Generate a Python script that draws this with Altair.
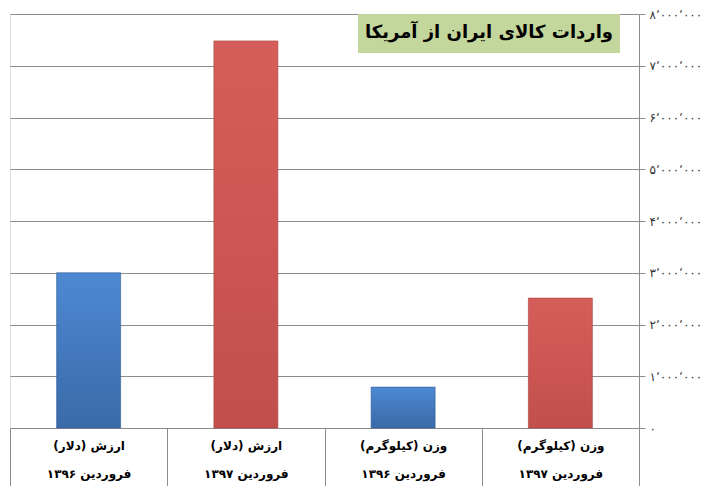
import altair as alt
import pandas as pd

categories = [
    "ارزش (دلار)\nفروردین ۱۳۹۶",
    "ارزش (دلار)\nفروردین ۱۳۹۷",
    "وزن (کیلوگرم)\nفروردین ۱۳۹۶",
    "وزن (کیلوگرم)\nفروردین ۱۳۹۷",
]
values = [3000000, 7480000, 790000, 2510000]
series = ["1396", "1397", "1396", "1397"]
tick_values = [0, 1000000, 2000000, 3000000, 4000000, 5000000, 6000000, 7000000, 8000000]
tick_labels = ["۰", "۱٬۰۰۰٬۰۰۰", "۲٬۰۰۰٬۰۰۰", "۳٬۰۰۰٬۰۰۰", "۴٬۰۰۰٬۰۰۰",
               "۵٬۰۰۰٬۰۰۰", "۶٬۰۰۰٬۰۰۰", "۷٬۰۰۰٬۰۰۰", "۸٬۰۰۰٬۰۰۰"]
title_text = "واردات کالای ایران از آمریکا"

df = pd.DataFrame({"cat": categories, "value": values, "series": series})

label_map = "{" + ",".join(f"'{v}':'{l}'" for v, l in zip(tick_values, tick_labels)) + "}"

x_enc = alt.X("cat:N", sort=categories,
              scale=alt.Scale(paddingInner=0, paddingOuter=0),
              axis=alt.Axis(title=None, labelAngle=0, labelExpr="split(datum.label, '\\n')",
                            labelFont="DejaVu Sans", labelFontWeight="bold", labelFontSize=12,
                            labelColor="#000000", labelLineHeight=28, labelPadding=-50,
                            labelBaseline="top",
                            tickBand="extent", tickSize=62, tickColor="#8c8c8c",
                            domainColor="#8c8c8c", grid=False))
y_enc = alt.Y("value:Q",
              scale=alt.Scale(domain=[0, 8000000], nice=False),
              axis=alt.Axis(title=None, orient="right", values=tick_values,
                            labelExpr=f"{label_map}[datum.value]",
                            labelFont="DejaVu Sans", labelFontSize=12, labelColor="#333333",
                            tickSize=6, tickColor="#8c8c8c", domainColor="#8c8c8c",
                            labelPadding=4,
                            grid=True, gridColor="#8c8c8c", gridWidth=1))

blue = alt.Gradient(gradient="linear", x1=0, x2=0, y1=0, y2=1,
                    stops=[alt.GradientStop(color="#4d89d2", offset=0),
                           alt.GradientStop(color="#3a6aa9", offset=1)])
red = alt.Gradient(gradient="linear", x1=0, x2=0, y1=0, y2=1,
                   stops=[alt.GradientStop(color="#d65e5a", offset=0),
                          alt.GradientStop(color="#c24f4c", offset=1)])

base = alt.Chart(df)
bars_blue = base.transform_filter(alt.datum.series == "1396").mark_bar(
    size=64, color=blue, stroke="#2f5a94", strokeWidth=0.6).encode(x=x_enc, y=y_enc)
bars_red = base.transform_filter(alt.datum.series == "1397").mark_bar(
    size=64, color=red, stroke="#a8423f", strokeWidth=0.6).encode(x=x_enc, y=y_enc)

title_df = pd.DataFrame({"t": [title_text]})
box = alt.Chart(title_df).mark_rect(color="#c3d69b").encode(
    x=alt.value(348), x2=alt.value(610), y=alt.value(0), y2=alt.value(39))
title = alt.Chart(title_df).mark_text(font="DejaVu Sans", fontSize=18, fontWeight="bold",
                                      color="#000000", align="center", baseline="middle").encode(
    text="t:N", x=alt.value(479), y=alt.value(19))

chart = alt.layer(bars_blue, bars_red, box, title).properties(
    width=629, height=414,
    autosize=alt.AutoSizeParams(type="none"),
    padding={"left": 2, "top": 6, "right": 70, "bottom": 58},
).configure_view(stroke=None).configure(background="#ffffff")

chart.save("out.html", embed_options={"renderer": "svg", "actions": False})
